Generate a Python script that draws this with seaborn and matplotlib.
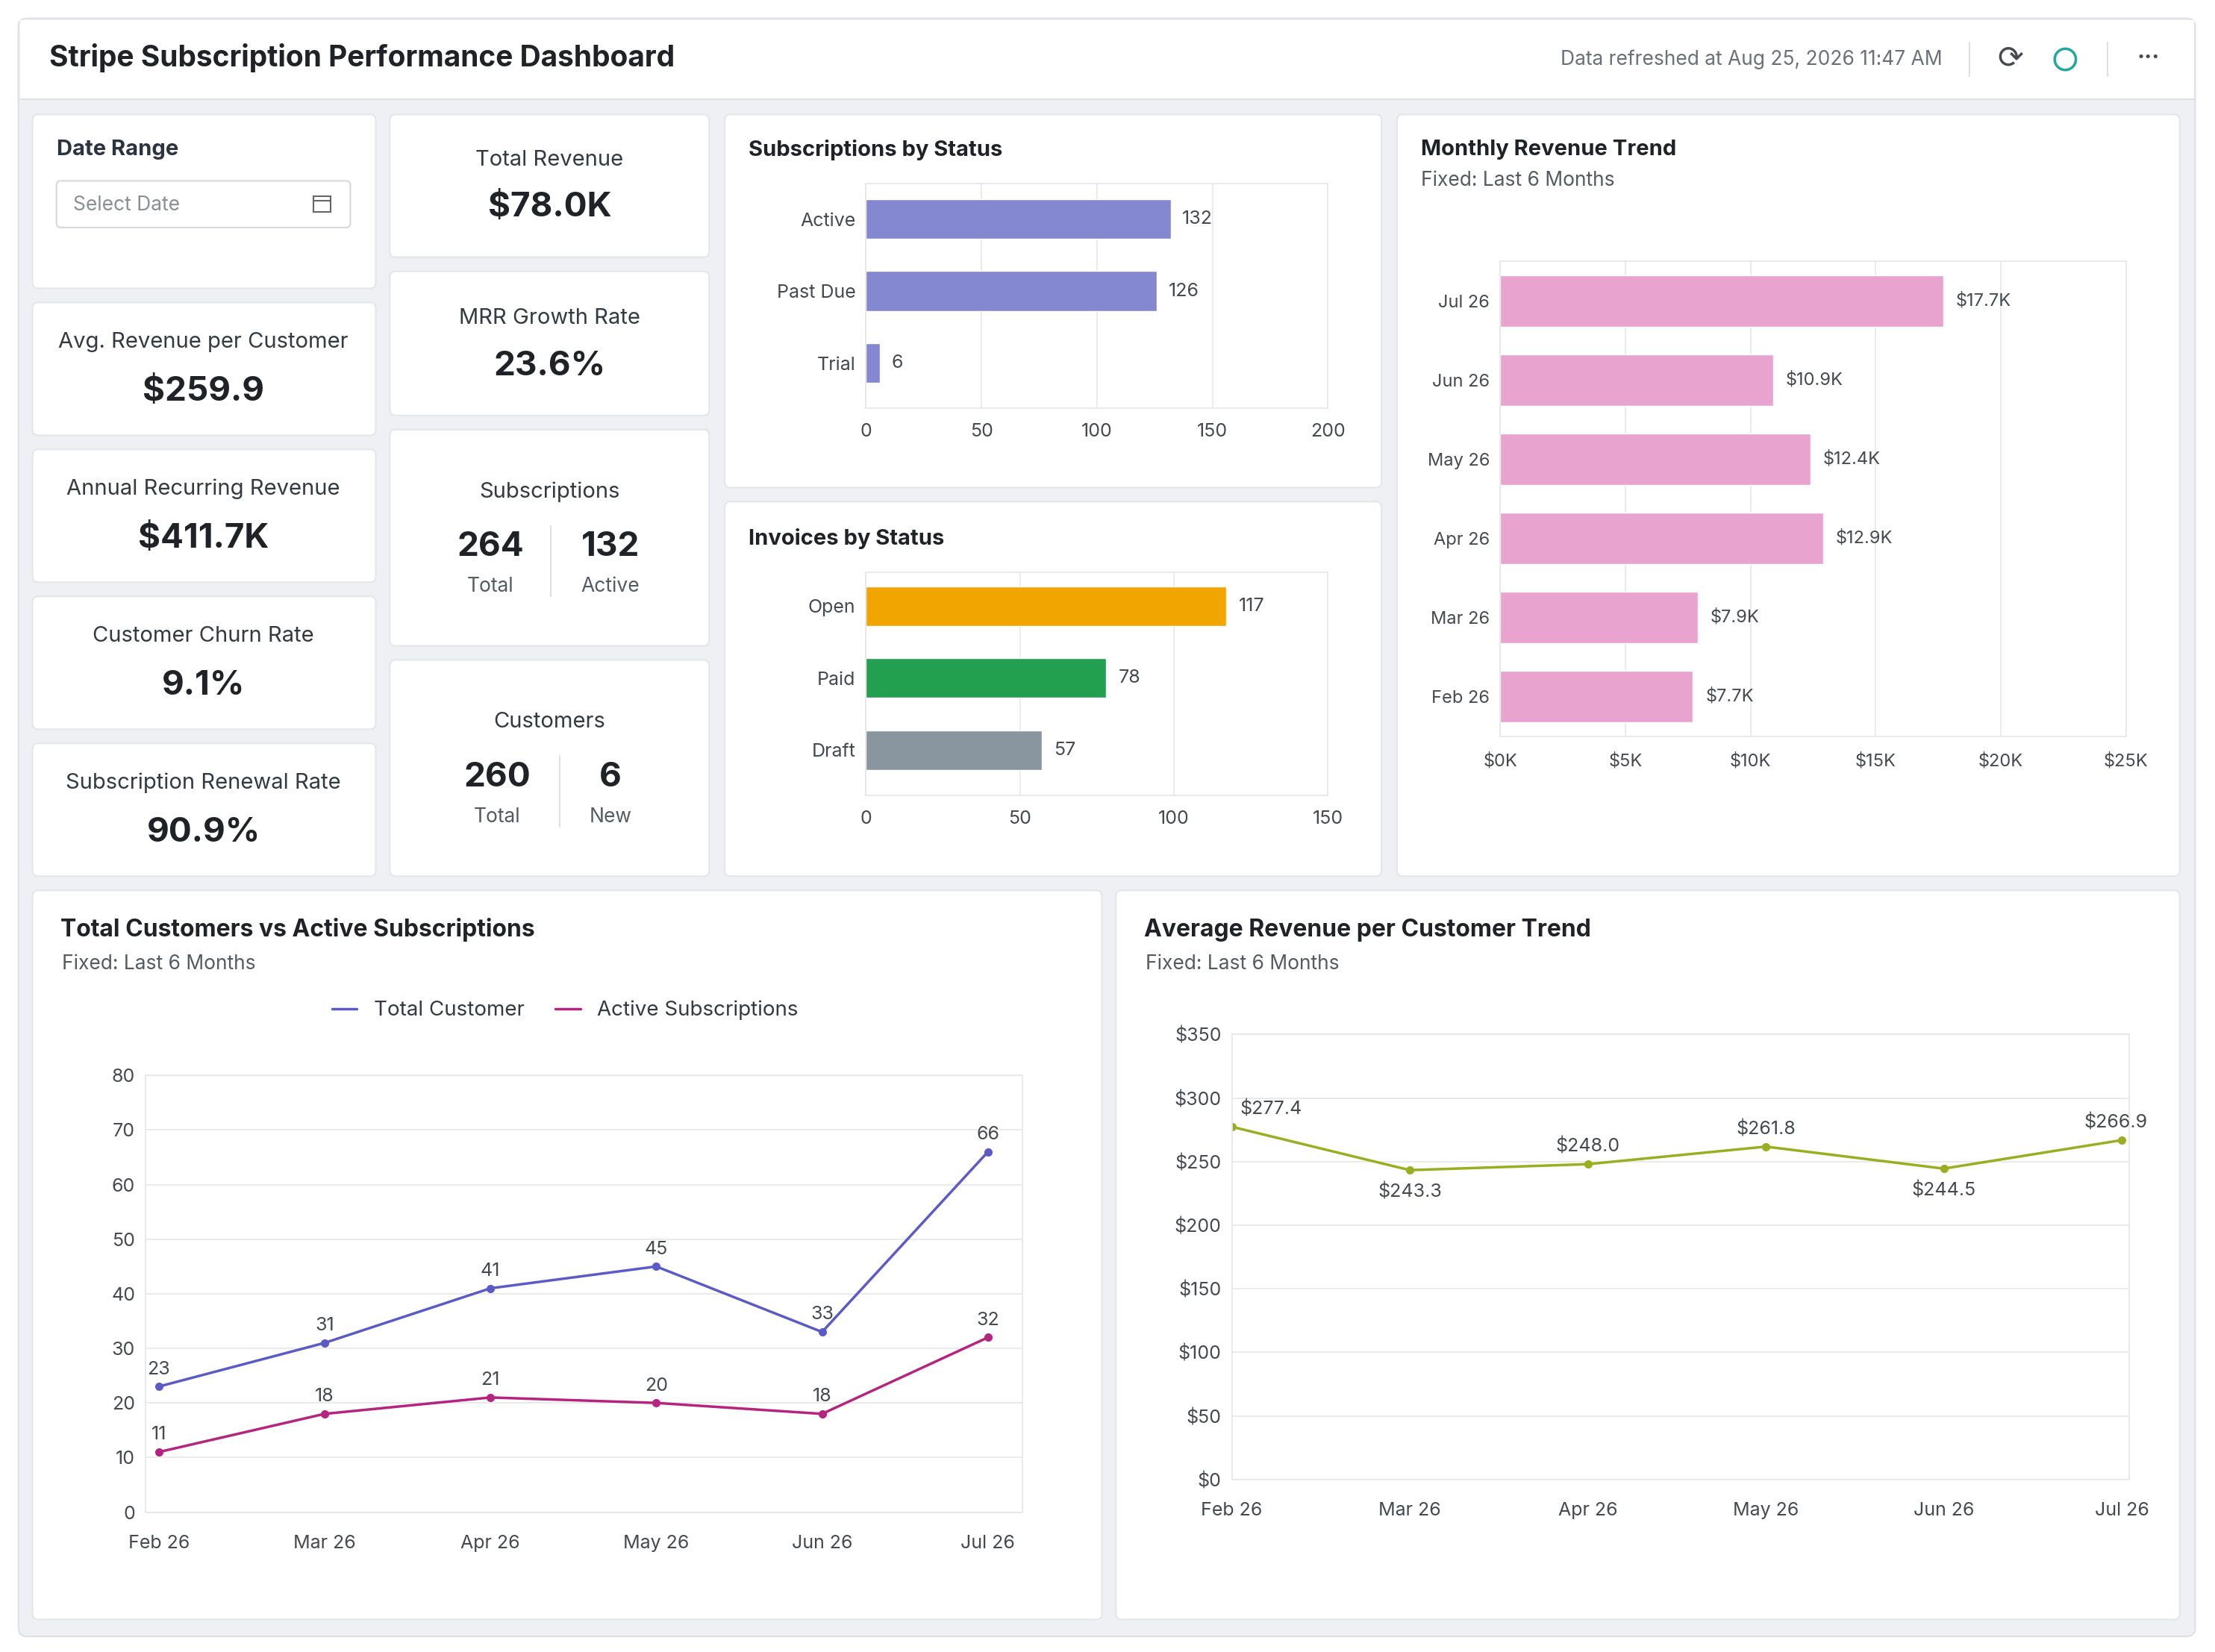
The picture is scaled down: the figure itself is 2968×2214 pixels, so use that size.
import matplotlib
matplotlib.use("Agg")
import matplotlib.pyplot as plt
import seaborn as sns
import pandas as pd
from matplotlib.patches import FancyBboxPatch, Rectangle, Circle
from matplotlib.lines import Line2D
from matplotlib.ticker import FuncFormatter

# ---------------- data ----------------
sub_status = ["Active", "Past Due", "Trial"]
sub_counts = [132, 126, 6]
inv_status = ["Open", "Paid", "Draft"]
inv_counts = [117, 78, 57]
inv_colors = ["#f0a500", "#22a04f", "#8a969f"]
rev_months = ["Jul 26", "Jun 26", "May 26", "Apr 26", "Mar 26", "Feb 26"]
rev_values = [17700, 10900, 12400, 12900, 7900, 7700]
rev_labels = ["$17.7K", "$10.9K", "$12.4K", "$12.9K", "$7.9K", "$7.7K"]
line_months = ["Feb 26", "Mar 26", "Apr 26", "May 26", "Jun 26", "Jul 26"]
total_customers = [23, 31, 41, 45, 33, 66]
active_subs = [11, 18, 21, 20, 18, 32]
arpc = [277.4, 243.3, 248.0, 261.8, 244.5, 266.9]

sns.set_theme(style="white")
plt.rcParams['font.family'] = ['Inter', 'DejaVu Sans']

W, H = 1568.0, 1169.0
fig = plt.figure(figsize=(29.68, 22.14), dpi=100)
bg = fig.add_axes([0, 0, 1, 1])
bg.set_xlim(0, W); bg.set_ylim(H, 0); bg.axis("off")
bg.add_patch(Rectangle((0, 0), W, H, color="white", zorder=0))

def card(x0, y0, x1, y1, fc="white", ec="#e3e6ea", r=4):
    bg.add_patch(FancyBboxPatch((x0, y0), x1 - x0, y1 - y0,
                                boxstyle=f"round,pad=0,rounding_size={r}",
                                fc=fc, ec=ec, lw=1.5, zorder=1))

def txt(x, y, s, size=20, color="#333a42", weight="normal", ha="center", va="center", **kw):
    bg.text(x, y, s, fontsize=size, color=color, fontweight=weight, ha=ha, va=va, zorder=5, **kw)

def axes_at(x0, y0, x1, y1):
    return fig.add_axes([x0 / W, 1 - y1 / H, (x1 - x0) / W, (y1 - y0) / H])

# outer frame
card(13, 13, 1554, 1158, fc="#eef0f3", ec="#dde0e4", r=6)
bg.add_patch(Rectangle((14, 14), 1539, 56, fc="white", ec="none", zorder=1.5))
bg.plot([14, 1553], [70, 70], color="#dde0e4", lw=1.5, zorder=2)
txt(35, 41, "Stripe Subscription Performance Dashboard", size=28, color="#1f2328", weight="bold", ha="left")
txt(1375, 42, "Data refreshed at Aug 25, 2026 11:47 AM", size=19, color="#6b7178", ha="right")
bg.plot([1394, 1394], [30, 54], color="#dde0e4", lw=1.5, zorder=3)
bg.plot([1492, 1492], [30, 54], color="#dde0e4", lw=1.5, zorder=3)
txt(1423, 42, "⟳", size=30, color="#444a50")
bg.add_patch(Circle((1462, 42), 7.5, fc="none", ec="#1fa9a0", lw=2.5, zorder=5))
txt(1521, 41, "···", size=22, color="#444a50", weight="bold")

# left KPI cards
card(23, 81, 266, 204)
txt(40, 106, "Date Range", size=21, color="#2b3440", weight="bold", ha="left")
card(40, 128, 248, 161, ec="#d5d8dc", r=3)
txt(52, 145, "Select Date", size=19, color="#8a8f96", ha="left")
bg.add_patch(Rectangle((222, 139), 12, 11, fc="none", ec="#666", lw=1.5, zorder=5))
bg.plot([222, 234], [142, 142], color="#666", lw=1.5, zorder=5)

left_kpis = [(214, 308, "Avg. Revenue per Customer", "$259.9"),
             (318, 412, "Annual Recurring Revenue", "$411.7K"),
             (422, 516, "Customer Churn Rate", "9.1%"),
             (526, 620, "Subscription Renewal Rate", "90.9%")]
for y0, y1, lab, val in left_kpis:
    card(23, y0, 266, y1)
    txt(144, y0 + 28, lab, size=21, color="#333a42")
    txt(144, y0 + 63, val, size=33, color="#1f2328", weight="bold")

card(276, 81, 502, 182)
txt(389, 113, "Total Revenue", size=21)
txt(389, 147, "$78.0K", size=33, color="#1f2328", weight="bold")
card(276, 192, 502, 294)
txt(389, 225, "MRR Growth Rate", size=21)
txt(389, 259, "23.6%", size=33, color="#1f2328", weight="bold")
card(276, 304, 502, 457)
txt(389, 348, "Subscriptions", size=21)
txt(347, 387, "264", size=33, color="#1f2328", weight="bold")
txt(347, 415, "Total", size=19, color="#555b62")
txt(432, 387, "132", size=33, color="#1f2328", weight="bold")
txt(432, 415, "Active", size=19, color="#555b62")
bg.plot([390, 390], [372, 422], color="#dde0e4", lw=1.5, zorder=3)
card(276, 467, 502, 620)
txt(389, 511, "Customers", size=21)
txt(352, 550, "260", size=33, color="#1f2328", weight="bold")
txt(352, 578, "Total", size=19, color="#555b62")
txt(432, 550, "6", size=33, color="#1f2328", weight="bold")
txt(432, 578, "New", size=19, color="#555b62")
bg.plot([396, 396], [535, 585], color="#dde0e4", lw=1.5, zorder=3)

# chart cards
card(513, 81, 978, 345)
txt(530, 106, "Subscriptions by Status", size=21, color="#1f2328", weight="bold", ha="left")
card(513, 355, 978, 620)
txt(530, 381, "Invoices by Status", size=21, color="#1f2328", weight="bold", ha="left")
card(989, 81, 1543, 620)
txt(1006, 106, "Monthly Revenue Trend", size=21, color="#1f2328", weight="bold", ha="left")
txt(1006, 128, "Fixed: Last 6 Months", size=19, color="#555b62", ha="left")
card(23, 630, 780, 1146)
txt(43, 658, "Total Customers vs Active Subscriptions", size=23, color="#1f2328", weight="bold", ha="left")
txt(44, 682, "Fixed: Last 6 Months", size=19, color="#555b62", ha="left")
card(790, 630, 1543, 1146)
txt(810, 658, "Average Revenue per Customer Trend", size=23, color="#1f2328", weight="bold", ha="left")
txt(811, 682, "Fixed: Last 6 Months", size=19, color="#555b62", ha="left")

def style_axes(ax, grid_axis, xpad=14):
    for sp in ax.spines.values():
        sp.set_color("#e6e6e6"); sp.set_linewidth(1.2)
    ax.grid(True, axis=grid_axis, color="#e8e8e8", lw=1.2)
    ax.set_axisbelow(True)
    ax.tick_params(axis="both", labelsize=18, colors="#444a50", length=0, pad=10)
    ax.tick_params(axis="x", pad=xpad)
    ax.set_xlabel(""); ax.set_ylabel("")

# Subscriptions by status
ax = axes_at(613, 130, 940, 289)
df = pd.DataFrame({"status": sub_status, "count": sub_counts})
sns.barplot(data=df, y="status", x="count", orient="h", color="#8488d0", saturation=1, width=0.55, ax=ax)
ax.set_xlim(0, 200); ax.set_xticks([0, 50, 100, 150, 200])
ax.set_ylim(2.63, -0.49)
style_axes(ax, "x")
for i, v in enumerate(sub_counts):
    ax.text(v + 5, i, str(v), va="center", fontsize=18, color="#444a50")

# Invoices by status
ax = axes_at(613, 405, 940, 563)
df = pd.DataFrame({"status": inv_status, "count": inv_counts})
sns.barplot(data=df, y="status", x="count", orient="h", hue="status", palette=inv_colors,
            saturation=1, width=0.55, legend=False, ax=ax)
ax.set_xlim(0, 150); ax.set_xticks([0, 50, 100, 150])
ax.set_ylim(2.63, -0.47)
style_axes(ax, "x")
for i, v in enumerate(inv_counts):
    ax.text(v + 4, i, str(v), va="center", fontsize=18, color="#444a50")

# Monthly revenue
ax = axes_at(1062, 185, 1505, 521)
df = pd.DataFrame({"month": rev_months, "rev": rev_values})
sns.barplot(data=df, y="month", x="rev", orient="h", color="#e9a3cf", saturation=1, width=0.65, ax=ax)
ax.set_xlim(0, 25000); ax.set_xticks(range(0, 25001, 5000))
ax.xaxis.set_major_formatter(FuncFormatter(lambda v, p: f"${int(v/1000)}K"))
style_axes(ax, "x", xpad=16)
ax.tick_params(labelsize=17)
for i, (v, l) in enumerate(zip(rev_values, rev_labels)):
    ax.text(v + 500, i, l, va="center", fontsize=17, color="#444a50")

# Total customers vs active subs
ax = axes_at(103, 761, 724, 1070)
df = pd.DataFrame({"month": line_months * 2,
                   "value": total_customers + active_subs,
                   "series": ["Total Customer"] * 6 + ["Active Subscriptions"] * 6,
                   "x": list(range(6)) * 2})
c1, c2 = "#5b5bc8", "#b5247f"
sns.lineplot(data=df, x="x", y="value", hue="series", palette=[c1, c2], lw=2.5,
             marker="o", markersize=8, markeredgewidth=0, legend=False, ax=ax)
ax.set_xlim(-0.08, 5.21); ax.set_ylim(0, 80)
ax.set_yticks(range(0, 81, 10))
ax.set_xticks(range(6)); ax.set_xticklabels(line_months)
style_axes(ax, "y", xpad=22)
for i in range(6):
    ax.annotate(str(total_customers[i]), (i, total_customers[i]), xytext=(0, 12),
                textcoords="offset points", ha="center", fontsize=18, color="#444a50")
    ax.annotate(str(active_subs[i]), (i, active_subs[i]), xytext=(0, 12),
                textcoords="offset points", ha="center", fontsize=18, color="#444a50")
handles = [Line2D([], [], color=c1, lw=2.5), Line2D([], [], color=c2, lw=2.5)]
fig.legend(handles, ["Total Customer", "Active Subscriptions"], loc="center",
           bbox_to_anchor=(400 / W, 1 - 715 / H), ncol=2, frameon=False, fontsize=20,
           handlelength=1.2, columnspacing=1.5, labelcolor="#333a42")

# ARPC trend
ax = axes_at(872, 732, 1507, 1047)
df = pd.DataFrame({"x": range(6), "arpc": arpc})
sns.lineplot(data=df, x="x", y="arpc", color="#9aae1f", lw=2.5, marker="o", markersize=8,
             markeredgewidth=0, ax=ax)
ax.set_xlim(0, 5.04); ax.set_ylim(0, 350)
ax.set_yticks(range(0, 351, 50))
ax.yaxis.set_major_formatter(FuncFormatter(lambda v, p: f"${int(v)}"))
ax.set_xticks(range(6)); ax.set_xticklabels(line_months)
style_axes(ax, "y", xpad=22)
offsets = [(38, 12), (0, -26), (0, 12), (0, 12), (0, -26), (-6, 12)]
for i, v in enumerate(arpc):
    ax.annotate(f"${v:.1f}", (i, v), xytext=offsets[i], textcoords="offset points",
                ha="center", fontsize=18, color="#444a50")

fig.savefig("out.png", dpi=100)
